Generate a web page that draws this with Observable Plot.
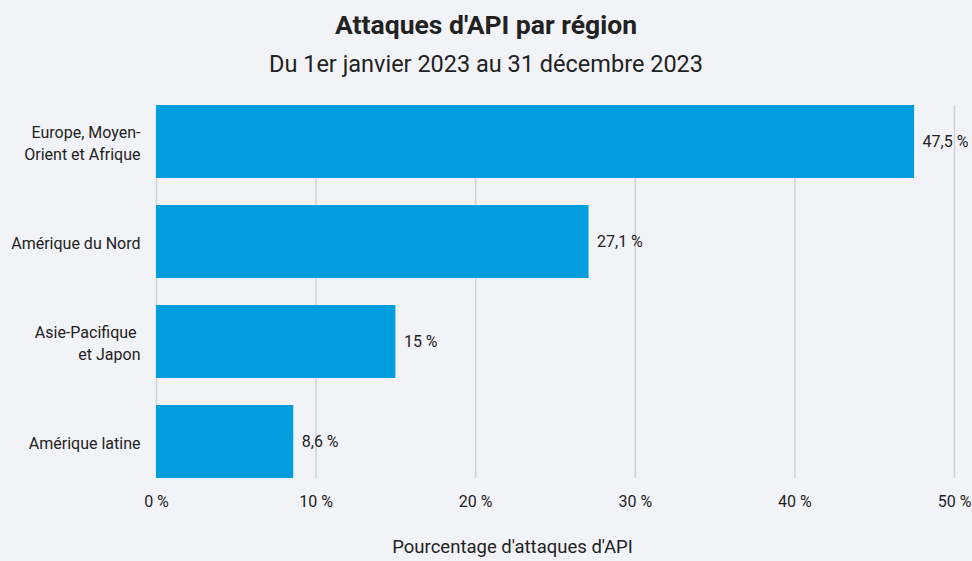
<!DOCTYPE html>
<html><head><meta charset="utf-8">
<script src="https://cdn.jsdelivr.net/npm/d3@7"></script>
<script src="https://cdn.jsdelivr.net/npm/@observablehq/plot@0.6"></script>
<style>
html,body{margin:0;padding:0;background:#f2f3f7;width:972px;height:561px;overflow:hidden;font-family:Roboto,"Noto Sans",sans-serif;color:#222;}
#title{height:48px;line-height:50px;text-align:center;font-size:26.5px;font-weight:700;}
#subtitle{height:32px;line-height:32px;text-align:center;font-size:23.5px;}
svg{display:block;}
</style></head>
<body>
<div id="title">Attaques d'API par région</div>
<div id="subtitle">Du 1er janvier 2023 au 31 décembre 2023</div>
<div id="chart"></div>
<script>
const regions = ["Europe, Moyen-\nOrient et Afrique", "Amérique du Nord", "Asie-Pacifique\u00a0\net Japon", "Amérique latine"];
const values = [47.5, 27.1, 15, 8.6];
const valueLabels = ["47,5 %", "27,1 %", "15 %", "8,6 %"];
const xTicks = [0, 10, 20, 30, 40, 50];
const xTickLabels = ["0 %", "10 %", "20 %", "30 %", "40 %", "50 %"];
const axisTitle = "Pourcentage d'attaques d'API";

const data = regions.map((r, i) => ({region: r, value: values[i], label: valueLabels[i]}));

const chart = Plot.plot({
  width: 972,
  height: 481,
  marginTop: 25,
  marginBottom: 83,
  marginLeft: 156,
  marginRight: 18,
  style: {background: "transparent", fontFamily: "Roboto, 'Noto Sans', sans-serif", fontSize: "16px", color: "#222"},
  x: {domain: [0, 50], label: null},
  y: {domain: regions, paddingInner: 0.27, paddingOuter: 0, label: null},
  marks: [
    Plot.ruleX(xTicks, {stroke: "#d2d2d6", strokeWidth: 1.5}),
    Plot.barX(data, {x: "value", y: "region", fill: "#019ddd"}),
    Plot.text(data, {x: "value", y: "region", text: "label", textAnchor: "start", dx: 8, fill: "#222", fontSize: 16}),
    Plot.axisX(xTicks, {tickSize: 0, tickPadding: 17, tickFormat: (d) => xTickLabels[xTicks.indexOf(d)], label: null, fontSize: 16, fill: "#222"}),
    Plot.axisY({tickSize: 0, tickPadding: 16, label: null, lineHeight: 1.4, fontSize: 16, fill: "#222"}),
    Plot.text([axisTitle], {frameAnchor: "bottom", dy: 74, dx: -43, fontSize: 18.5, fill: "#222"})
  ]
});
document.getElementById("chart").appendChild(chart);
</script>
</body></html>
